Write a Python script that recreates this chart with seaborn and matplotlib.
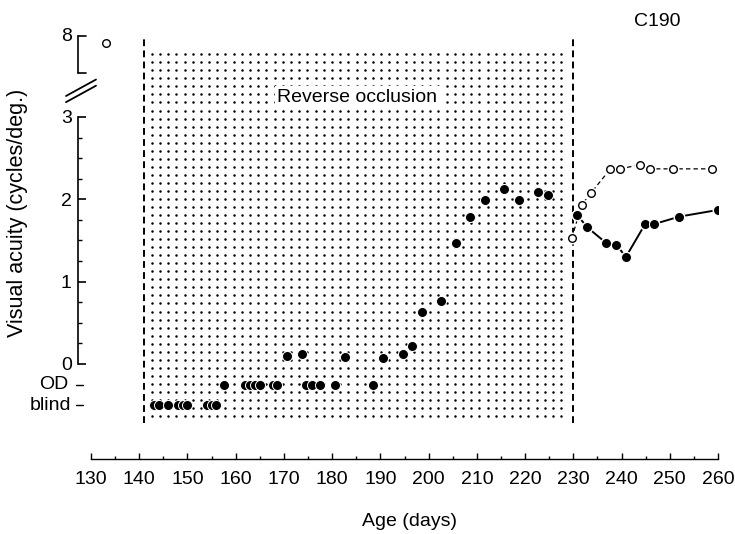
import numpy as np
import pandas as pd
import matplotlib
matplotlib.use("Agg")
import matplotlib.pyplot as plt
import matplotlib.transforms as mtransforms
from matplotlib.ticker import MultipleLocator
import seaborn as sns

sns.set_theme(style="ticks")
plt.rcParams['font.family'] = ['Liberation Sans', 'DejaVu Sans']
plt.rcParams['text.color'] = 'black'
plt.rcParams['axes.labelcolor'] = 'black'
plt.rcParams['xtick.color'] = 'black'
plt.rcParams['ytick.color'] = 'black'
plt.rcParams['axes.edgecolor'] = 'black'

# ---------------- data ----------------
OD_LEVEL = -0.25
BLIND_LEVEL = -0.5

blind_days = [143, 144, 146, 148, 149, 150, 154, 155, 156]
od_days = [157.6, 162, 163, 164, 165, 167.7, 168.6, 174.6, 175.8, 177.5, 180.6, 188.5]
occl_days = [170.6, 173.7, 182.7, 190.5, 194.6, 196.5, 198.6, 202.6, 205.7, 208.6,
             211.7, 215.7, 218.8, 222.7, 224.8]
occl_acuity = [0.10, 0.12, 0.085, 0.077, 0.12, 0.22, 0.63, 0.76, 1.47, 1.79,
               1.99, 2.13, 1.99, 2.09, 2.05]
post_filled_days = [230.8, 232.9, 236.8, 238.9, 240.9, 244.9, 246.8, 252.0, 259.9]
post_filled_acuity = [1.81, 1.66, 1.47, 1.45, 1.30, 1.70, 1.70, 1.79, 1.87]
post_open_days = [229.7, 231.7, 233.7, 237.7, 239.7, 243.8, 245.8, 250.7, 258.7]
post_open_acuity = [1.53, 1.93, 2.08, 2.37, 2.37, 2.42, 2.37, 2.37, 2.37]
pre_open_days = [133.1]
pre_open_acuity = [7.8]

occlusion_start, occlusion_end = 141, 230
x_ticks = list(range(130, 261, 10))
y_ticks = [0, 1, 2, 3]

FS = 14

# broken-axis mapping for values above 3 (upper segment)
def to_display(v):
    v = np.asarray(v, dtype=float)
    return np.where(v > 3, 3.98 - (8 - v) * 0.4, v)

filled = pd.DataFrame({
    "day": blind_days + od_days + occl_days,
    "y": [BLIND_LEVEL] * len(blind_days) + [OD_LEVEL] * len(od_days) + occl_acuity,
})
post_f = pd.DataFrame({"day": post_filled_days, "y": post_filled_acuity})
post_o = pd.DataFrame({"day": post_open_days, "y": post_open_acuity})
pre_o = pd.DataFrame({"day": pre_open_days, "y": to_display(pre_open_acuity)})

# ---------------- figure ----------------
W, H = 735, 534
fig = plt.figure(figsize=(W / 100, H / 100), dpi=100)
ax = fig.add_axes([91 / W, 75 / H, 627 / W, 439 / H])
ax.set_xlim(130, 260)
ax.set_ylim(-1.154, 4.178)

# dotted texture for the reverse-occlusion period
gx = np.linspace(142.6, 227.5, 51)
gy = np.linspace(3.762, -0.632, 46)
GX, GY = np.meshgrid(gx, gy)
ax.scatter(GX.ravel(), GY.ravel(), s=3.2, c="black", linewidths=0, zorder=1)

# dashed period boundaries
for xv in (occlusion_start, occlusion_end):
    ax.plot([xv, xv], [-0.72, 3.96], color="black", lw=1.4,
            linestyle=(0, (3.5, 2.2)), zorder=2)

ax.text(185.2, 3.24, "Reverse occlusion", fontsize=FS, ha="center", va="center",
        bbox=dict(facecolor="white", edgecolor="none", pad=2), zorder=3)

# lines after occlusion
sns.lineplot(data=post_f, x="day", y="y", ax=ax, color="black", lw=1.4,
             sort=False, estimator=None, zorder=4)
sns.lineplot(data=post_o, x="day", y="y", ax=ax, color="black", lw=0.9,
             sort=False, estimator=None, zorder=4, linestyle=(0, (3.5, 2.5)))

# white halos to create gaps at markers
for d in (post_f, post_o):
    ax.scatter(d["day"], d["y"], s=75, c="white", linewidths=0, zorder=5)

# filled circles
sns.scatterplot(data=filled, x="day", y="y", ax=ax, s=52, color="black",
                edgecolor="white", linewidth=0.7, zorder=6, legend=False)
sns.scatterplot(data=post_f, x="day", y="y", ax=ax, s=52, color="black",
                edgecolor="white", linewidth=0.7, zorder=6, legend=False)
# open circles
sns.scatterplot(data=post_o, x="day", y="y", ax=ax, s=30, color="white",
                edgecolor="black", linewidth=1.0, zorder=6, legend=False)
sns.scatterplot(data=pre_o, x="day", y="y", ax=ax, s=30, color="white",
                edgecolor="black", linewidth=1.0, zorder=6, legend=False,
                clip_on=False)

# ---------------- axes styling ----------------
for s in ("top", "right"):
    ax.spines[s].set_visible(False)
ax.spines["bottom"].set_bounds(130, 260)
ax.spines["bottom"].set_linewidth(1.0)
ax.spines["left"].set_position(("outward", 13 * 0.72))
ax.spines["left"].set_bounds(0, 3)
ax.spines["left"].set_linewidth(1.2)

ax.set_xticks(x_ticks)
ax.set_xticklabels([str(t) for t in x_ticks], fontsize=FS)
ax.xaxis.set_minor_locator(MultipleLocator(5))
ax.tick_params(axis="x", which="major", direction="in", length=4.5, width=1,
               pad=9, colors="black")
ax.tick_params(axis="x", which="minor", direction="in", length=2.2, width=1)

ax.set_yticks(y_ticks)
ax.set_yticklabels([str(t) for t in y_ticks], fontsize=FS)
ax.set_yticks([0.25, 0.5, 0.75, 1.25, 1.5, 1.75, 2.25, 2.5, 2.75], minor=True)
ax.tick_params(axis="y", which="major", direction="in", length=6, width=1.2,
               pad=4.5, colors="black")
ax.tick_params(axis="y", which="minor", direction="in", length=2.8, width=1.0)
ax.set_xlabel("")
ax.set_ylabel("")

# OD / blind labels with their short dashes
trans = mtransforms.blended_transform_factory(ax.transAxes, ax.transData)
def fx(px):
    return (px - 91) / 627
for lev, lab, right in ((OD_LEVEL, "OD", 68), (BLIND_LEVEL, "blind", 71)):
    ax.text(fx(right), lev, lab, transform=trans, ha="right", va="center",
            fontsize=FS)
    ax.plot([fx(76), fx(83)], [lev, lev], transform=trans, color="black",
            lw=1.0, clip_on=False)

# upper segment (value 8) bracket
ax.plot([fx(78), fx(78)], [3.53, 3.98], transform=trans, color="black", lw=1.2,
        clip_on=False)
for yv in (3.53, 3.98):
    ax.plot([fx(78), fx(86)], [yv, yv], transform=trans, color="black", lw=1.2,
            clip_on=False)
ax.text(fx(72), 3.98, "8", transform=trans, ha="right", va="center", fontsize=FS)

# axis break marks
for off in (0.0, 0.075):
    ax.plot([fx(66), fx(96)], [3.18 + off, 3.38 + off], transform=trans,
            color="black", lw=1.3, clip_on=False)

ax.text(247.4, 4.154, "C190", fontsize=FS, ha="center", va="center")

fig.text(18 / W, 1 - 213 / H, "Visual acuity (cycles/deg.)", rotation=90,
         ha="center", va="center", fontsize=15.5)
fig.text(410 / W, 1 - 521 / H, "Age (days)", ha="center", va="center",
         fontsize=FS)

fig.savefig("out.png", dpi=100)
